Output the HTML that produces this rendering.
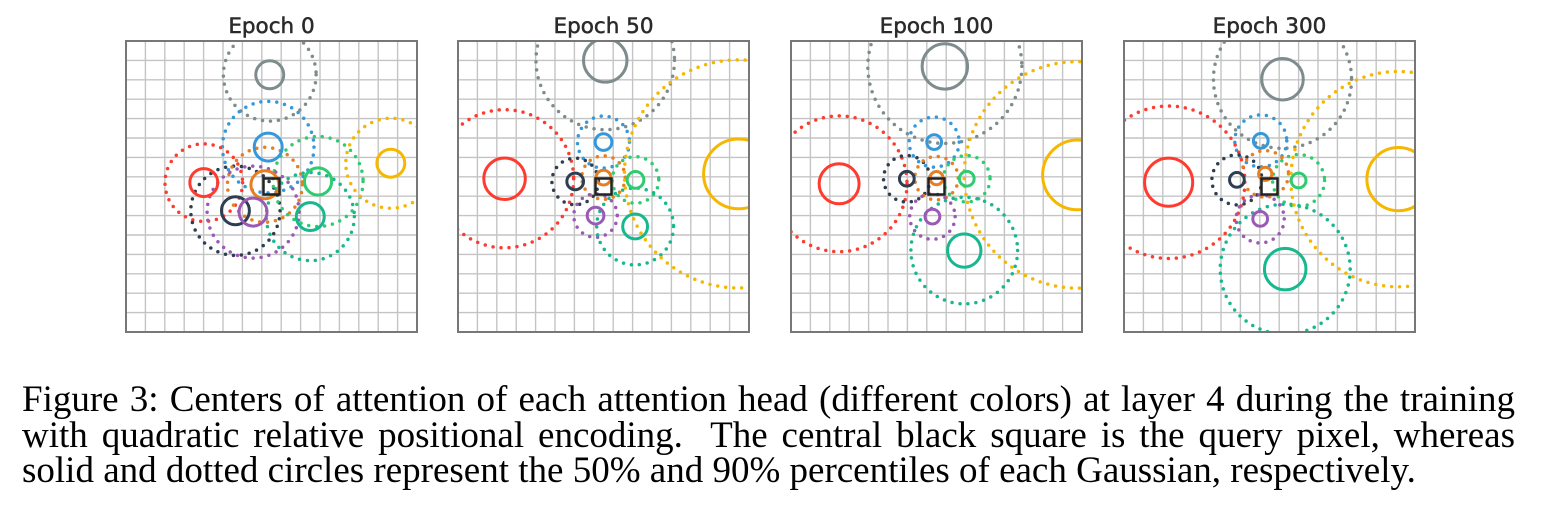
<!DOCTYPE html>
<html><head><meta charset="utf-8">
<style>
html,body{margin:0;padding:0;background:#fff;}
body{width:1542px;height:512px;position:relative;overflow:hidden;}
#fig{position:absolute;left:0;top:0;}
.cap{position:absolute;left:22px;width:1493px;font-family:"Liberation Serif",serif;font-size:37px;color:#000;white-space:nowrap;line-height:36px;}
.j{text-align:justify;text-align-last:justify;}
</style></head>
<body>
<svg id="fig" width="1542" height="350" xmlns="http://www.w3.org/2000/svg"></svg>
<div class="cap j" style="top:382px">Figure 3: Centers of attention of each attention head (different colors) at layer 4 during the training</div>
<div class="cap j" style="top:418px">with quadratic relative positional encoding.&nbsp; The central black square is the query pixel, whereas</div>
<div class="cap" style="top:453px">solid and dotted circles represent the 50% and 90% percentiles of each Gaussian, respectively.</div>
<script>
const epochs = ["Epoch 0","Epoch 50","Epoch 100","Epoch 300"];
const heads = ["gray","blue","red","navy","orange","green","purple","teal","yellow"];
const headColors = ["#7f8c8d","#3498db","#ff3b30","#2c3e50","#e67e22","#2ecc71","#9b59b6","#16b88e","#f5b700"];
// offsets from query pixel in grid cells (y down)
const centerX = [
  [-0.09,-0.17,-3.49,-1.86,-0.34,2.40,-0.95,2.00,6.15],
  [0.09,0.00,-5.10,-1.46,0.00,1.65,-0.41,1.63,6.96],
  [0.43,-0.12,-5.02,-1.53,0.00,1.56,-0.21,1.43,7.27],
  [0.67,-0.45,-5.20,-1.68,-0.22,1.50,-0.48,0.81,6.65]
];
const centerY = [
  [-5.76,-2.03,-0.20,1.25,-0.09,-0.26,1.32,1.55,-1.20],
  [-6.50,-2.29,-0.40,-0.26,-0.46,-0.34,1.50,2.06,-0.65],
  [-6.19,-2.29,-0.14,-0.40,-0.43,-0.40,1.55,3.30,-0.60],
  [-5.53,-2.35,-0.22,-0.34,-0.65,-0.31,1.67,4.26,-0.38]
];
const radius50 = [
  [0.72,0.72,0.72,0.72,0.72,0.70,0.72,0.72,0.72],
  [1.12,0.43,1.07,0.43,0.38,0.43,0.43,0.64,1.80],
  [1.17,0.38,1.03,0.38,0.34,0.38,0.38,0.86,1.80],
  [1.07,0.38,1.24,0.38,0.34,0.38,0.38,1.07,1.63]
];
const radius90 = [
  [2.39,2.36,2.00,2.30,1.93,2.32,2.37,2.27,2.32],
  [3.57,1.34,3.56,1.20,1.12,1.20,1.12,1.98,5.88],
  [3.97,1.29,3.50,1.20,1.12,1.20,1.17,2.75,5.84],
  [3.56,1.34,3.93,1.29,1.20,1.34,1.24,3.35,5.55]
];
const NS="http://www.w3.org/2000/svg";
const svg=document.getElementById('fig');
const panelLeft=[126,458,791,1124], panelTop=41, panelSize=291, nCells=15, cell=panelSize/nCells;
function mk(tag,attrs){const e=document.createElementNS(NS,tag);for(const k in attrs)e.setAttribute(k,attrs[k]);return e;}
const defs=mk('defs',{});svg.appendChild(defs);
epochs.forEach((title,p)=>{
  const x0=panelLeft[p], y0=panelTop;
  const sx=v=>x0+panelSize/2+v*cell, sy=v=>y0+panelSize/2+v*cell, sr=v=>v*cell;
  const cp=mk('clipPath',{id:'clip'+p});cp.appendChild(mk('rect',{x:x0,y:y0,width:panelSize,height:panelSize}));defs.appendChild(cp);
  const g=mk('g',{});
  
  
  svg.appendChild(g);
  const t=mk('text',{x:x0+panelSize/2,y:33,'text-anchor':'middle','font-family':'DejaVu Sans, Liberation Sans, sans-serif','font-size':'21.5','fill':'#2a2a2a','stroke':'#2a2a2a','stroke-width':'0.5'});
  t.textContent=title;
  
  
  g.appendChild(t);
  const grid=mk('g',{stroke:'#c4c4c4','stroke-width':'1.4'});
  
  
  for(let i=1;i<nCells;i++){
    grid.appendChild(mk('line',{x1:x0+i*cell,y1:y0,x2:x0+i*cell,y2:y0+panelSize}));
    grid.appendChild(mk('line',{x1:x0,y1:y0+i*cell,x2:x0+panelSize,y2:y0+i*cell}));
  }
  g.appendChild(grid);
  const cg=mk('g',{'clip-path':'url(#clip'+p+')',fill:'none'});
  g.appendChild(cg);
  heads.forEach((h,k)=>{
    const d=mk('circle',{cx:sx(centerX[p][k]),cy:sy(centerY[p][k]),r:sr(radius90[p][k]),stroke:headColors[k],'stroke-width':'3.5','stroke-dasharray':'0 8','stroke-linecap':'round'});
    
    
    cg.appendChild(d);
  });
  heads.forEach((h,k)=>{
    const c=mk('circle',{cx:sx(centerX[p][k]),cy:sy(centerY[p][k]),r:sr(radius50[p][k]),stroke:headColors[k],'stroke-width':'3'});
    
    
    cg.appendChild(c);
  });
  const sq=mk('rect',{x:sx(0)-8,y:sy(0)-8,width:16,height:16,fill:'none',stroke:'#222','stroke-width':'2.5'});
  
  
  cg.appendChild(sq);
  const fr=mk('rect',{x:x0,y:y0,width:panelSize,height:panelSize,fill:'none',stroke:'#777','stroke-width':'2'});
  
  
  g.appendChild(fr);
});
</script>
</body></html>
